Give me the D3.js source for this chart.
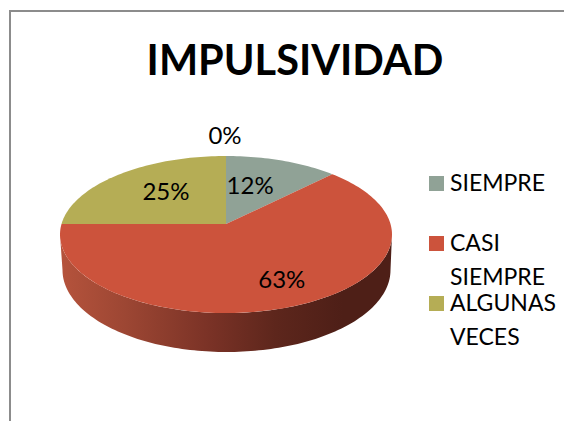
<!DOCTYPE html>
<html><head><meta charset="utf-8">
<script src="https://cdnjs.cloudflare.com/ajax/libs/d3/7.8.5/d3.min.js"></script>
<style>html,body{margin:0;padding:0;background:#fff}svg{display:block}text{font-family:Lato,"Open Sans",sans-serif;fill:#000}</style>
</head><body><svg id="c" width="564" height="421"></svg>
<script>
const title = "IMPULSIVIDAD";
const sliceValues = [12.5, 62.5, 25, 0];
const sliceLabels = ["12%", "63%", "25%", "0%"];
const sliceColors = ["#90a296", "#cc533c", "#b5ad55", "#8064a2"];
const legendLines = [["SIEMPRE"], ["CASI", "SIEMPRE"], ["ALGUNAS", "VECES"]];
const labelNudges = [[-11, 10], [15, 18], [6, 7], [-1, -37]];

const svg = d3.select("#c");
const W = 564, H = 421;
svg.append("path").attr("d", `M10,${H}V11H${W}`).attr("fill", "none").attr("stroke", "#8c8c8c").attr("stroke-width", 2);

svg.append("text").attr("x", 295).attr("y", 75).attr("text-anchor", "middle")
  .attr("font-size", 41.5).attr("font-weight", 700).text(title);

// Perspective projection of the pie's unit disc
const apex = [226, 224], a = 164.5, b = 77.1, k = 0.134;
const project = (ang, r) => {
  const u = Math.sin(ang) * r, v = Math.cos(ang) * r, w = 1 + k * v;
  return [apex[0] + a * u / w, apex[1] - b * v / w];
};
const arcs = d3.pie().sort(null).value(d => d)(sliceValues);
const line = d3.line();
const sample = (s, e, f) => { const n = Math.max(2, Math.ceil(Math.abs(e - s) * 40)); return d3.range(n + 1).map(i => f(s + (e - s) * i / n)); };

// Side wall
const defs = svg.append("defs");
const grad = defs.append("linearGradient").attr("id", "wall").attr("gradientUnits", "userSpaceOnUse")
  .attr("x1", 61).attr("x2", 392).attr("y1", 0).attr("y2", 0);
[[0, "#b5533c"], [0.2, "#9c4633"], [0.45, "#7a3226"], [0.65, "#5d261c"], [0.85, "#4e1f17"], [1, "#4e1f17"]]
  .forEach(s => grad.append("stop").attr("offset", s[0]).attr("stop-color", s[1]));
const bottom = { cx: 226.5, cy: 270, rx: 164, ry: 82 };
const topEdge = sample(Math.PI / 2 + 0.134, 3 * Math.PI / 2 - 0.134, t => project(t, 1));
const lowEdge = sample(3 * Math.PI / 2, Math.PI / 2, t => [bottom.cx + bottom.rx * Math.sin(t), bottom.cy - bottom.ry * Math.cos(t)]);
svg.append("path").attr("d", line(topEdge.concat(lowEdge)) + "Z").attr("fill", "url(#wall)");

// Top face
svg.selectAll("path.slice").data(arcs).join("path").attr("class", "slice")
  .filter(d => d.value > 0)
  .attr("fill", d => sliceColors[d.index])
  .attr("d", d => line([apex].concat(sample(d.startAngle, d.endAngle, t => project(t, 1)))) + "Z");

// Labels
svg.selectAll("text.pct").data(arcs).join("text").attr("class", "pct")
  .attr("text-anchor", "middle").attr("font-size", 24)
  .attr("x", d => project((d.startAngle + d.endAngle) / 2, 0.6)[0] + labelNudges[d.index][0])
  .attr("y", d => project((d.startAngle + d.endAngle) / 2, 0.6)[1] + labelNudges[d.index][1])
  .text(d => sliceLabels[d.index]);

// Legend
const legendY = d3.scalePoint().domain(d3.range(legendLines.length)).range([176, 296]);
legendLines.forEach((ls, i) => {
  const y = legendY(i);
  svg.append("rect").attr("x", 429).attr("y", y).attr("width", 15).attr("height", 15).attr("fill", sliceColors[i]);
  ls.forEach((t, j) => svg.append("text").attr("x", 450).attr("y", y + 15 + j * 33.5).attr("font-size", 23).text(t));
});
</script></body></html>
